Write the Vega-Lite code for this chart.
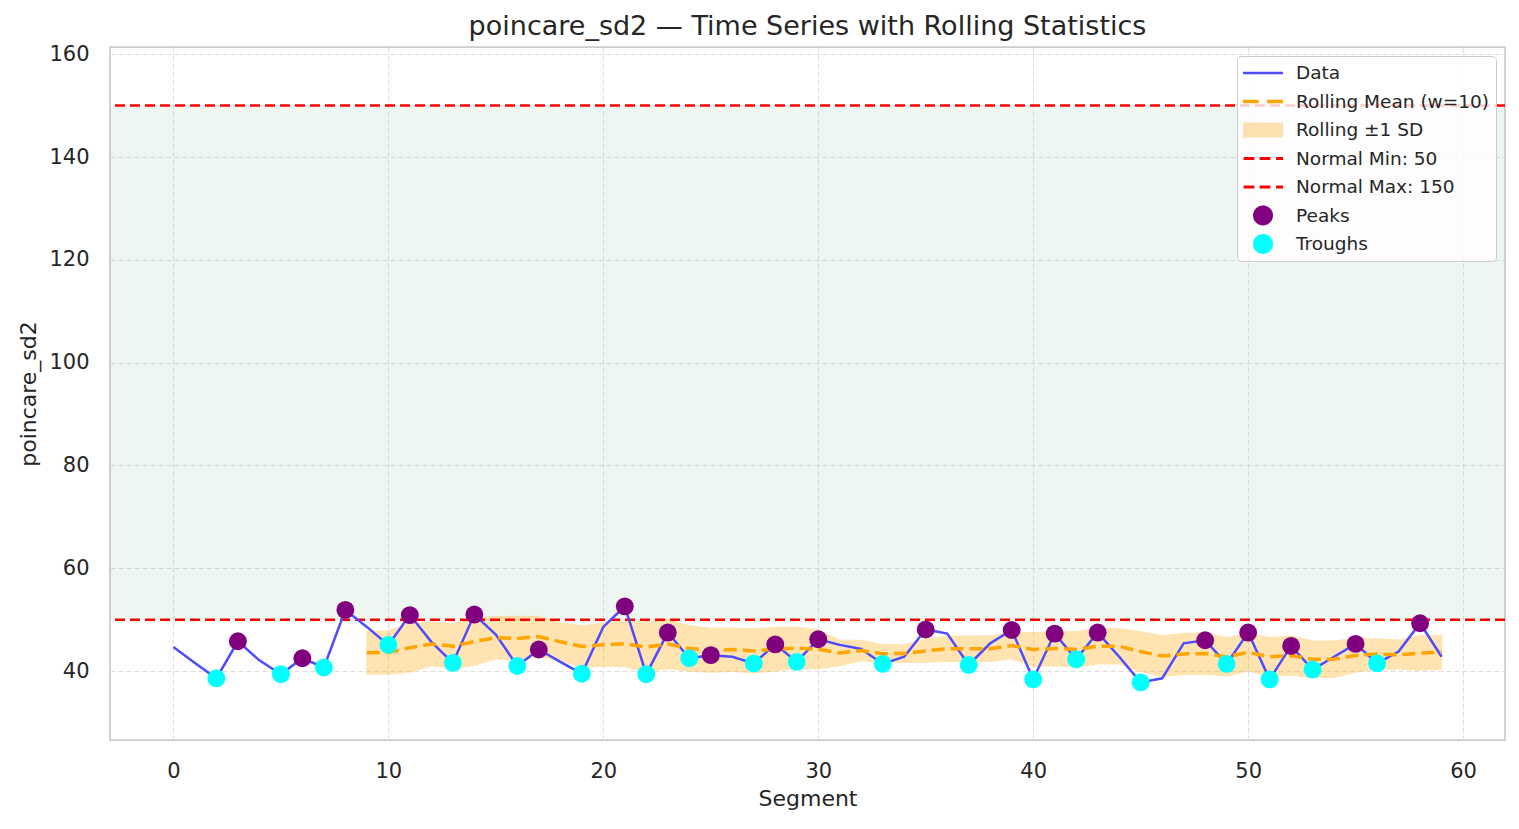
{
  "$schema": "https://vega.github.io/schema/vega-lite/v6.json",
  "width": 1395,
  "height": 693,
  "autosize": {"type": "none"},
  "padding": {"left": 110, "top": 47, "right": 14, "bottom": 89},
  "background": "white",
  "title": {"text": "poincare_sd2 — Time Series with Rolling Statistics", "fontSize": 27, "fontWeight": "normal", "color": "#262626", "offset": 2},
  "config": {
    "font": "DejaVu Sans",
    "view": {"stroke": "#cccccc", "strokeWidth": 1.75},
    "axis": {"domain": false, "ticks": false, "grid": true, "gridColor": "#dedede", "gridDash": [5, 3], "gridWidth": 1, "labelFontSize": 21, "labelColor": "#262626", "titleFontSize": 22, "titleFontWeight": "normal", "titleColor": "#262626"}
  },
  "datasets": {
    "series": [
      {"seg": 0, "value": 44.7}, {"seg": 1, "value": 41.6}, {"seg": 2, "value": 38.6}, {"seg": 3, "value": 45.8}, {"seg": 4, "value": 42.1},
      {"seg": 5, "value": 39.4}, {"seg": 6, "value": 42.5}, {"seg": 7, "value": 40.7}, {"seg": 8, "value": 51.9}, {"seg": 9, "value": 48.6},
      {"seg": 10, "value": 45.1}, {"seg": 11, "value": 50.9}, {"seg": 12, "value": 45.7}, {"seg": 13, "value": 41.6}, {"seg": 14, "value": 51.0},
      {"seg": 15, "value": 47.1}, {"seg": 16, "value": 41.0}, {"seg": 17, "value": 44.2}, {"seg": 18, "value": 41.8}, {"seg": 19, "value": 39.5},
      {"seg": 20, "value": 48.6}, {"seg": 21, "value": 52.6}, {"seg": 22, "value": 39.4}, {"seg": 23, "value": 47.5}, {"seg": 24, "value": 42.5},
      {"seg": 25, "value": 43.1}, {"seg": 26, "value": 42.8}, {"seg": 27, "value": 41.5}, {"seg": 28, "value": 45.2}, {"seg": 29, "value": 41.8},
      {"seg": 30, "value": 46.2}, {"seg": 31, "value": 45.1}, {"seg": 32, "value": 44.3}, {"seg": 33, "value": 41.4}, {"seg": 34, "value": 42.8},
      {"seg": 35, "value": 48.1}, {"seg": 36, "value": 47.3}, {"seg": 37, "value": 41.2}, {"seg": 38, "value": 45.4}, {"seg": 39, "value": 48.0},
      {"seg": 40, "value": 38.4}, {"seg": 41, "value": 47.3}, {"seg": 42, "value": 42.3}, {"seg": 43, "value": 47.5}, {"seg": 44, "value": 42.8},
      {"seg": 45, "value": 37.8}, {"seg": 46, "value": 38.6}, {"seg": 47, "value": 45.4}, {"seg": 48, "value": 46.0}, {"seg": 49, "value": 41.4},
      {"seg": 50, "value": 47.5}, {"seg": 51, "value": 38.4}, {"seg": 52, "value": 44.9}, {"seg": 53, "value": 40.3}, {"seg": 54, "value": 42.8},
      {"seg": 55, "value": 45.3}, {"seg": 56, "value": 41.5}, {"seg": 57, "value": 43.8}, {"seg": 58, "value": 49.3}, {"seg": 59, "value": 42.8}
    ],
    "rolling": [
      {"seg": 9, "mean": 43.59, "lower": 39.39, "upper": 47.79},
      {"seg": 10, "mean": 43.63, "lower": 39.42, "upper": 47.84},
      {"seg": 11, "mean": 44.56, "lower": 39.85, "upper": 49.27},
      {"seg": 12, "mean": 45.27, "lower": 41.05, "upper": 49.49},
      {"seg": 13, "mean": 44.85, "lower": 40.48, "upper": 49.22},
      {"seg": 14, "mean": 45.74, "lower": 41.10, "upper": 50.38},
      {"seg": 15, "mean": 46.51, "lower": 42.43, "upper": 50.59},
      {"seg": 16, "mean": 46.36, "lower": 42.09, "upper": 50.63},
      {"seg": 17, "mean": 46.71, "lower": 42.83, "upper": 50.59},
      {"seg": 18, "mean": 45.70, "lower": 42.01, "upper": 49.39},
      {"seg": 19, "mean": 44.79, "lower": 40.79, "upper": 48.79},
      {"seg": 20, "mean": 45.14, "lower": 40.96, "upper": 49.32},
      {"seg": 21, "mean": 45.31, "lower": 40.85, "upper": 49.77},
      {"seg": 22, "mean": 44.68, "lower": 39.85, "upper": 49.51},
      {"seg": 23, "mean": 45.27, "lower": 40.50, "upper": 50.04},
      {"seg": 24, "mean": 44.42, "lower": 40.04, "upper": 48.80},
      {"seg": 25, "mean": 44.02, "lower": 39.73, "upper": 48.31},
      {"seg": 26, "mean": 44.20, "lower": 40.01, "upper": 48.39},
      {"seg": 27, "mean": 43.93, "lower": 39.66, "upper": 48.20},
      {"seg": 28, "mean": 44.27, "lower": 40.05, "upper": 48.49},
      {"seg": 29, "mean": 44.50, "lower": 40.51, "upper": 48.49},
      {"seg": 30, "mean": 44.26, "lower": 40.48, "upper": 48.04},
      {"seg": 31, "mean": 43.51, "lower": 41.06, "upper": 45.96},
      {"seg": 32, "mean": 44.00, "lower": 42.02, "upper": 45.98},
      {"seg": 33, "mean": 43.39, "lower": 41.68, "upper": 45.10},
      {"seg": 34, "mean": 43.42, "lower": 41.73, "upper": 45.11},
      {"seg": 35, "mean": 43.92, "lower": 41.68, "upper": 46.16},
      {"seg": 36, "mean": 44.37, "lower": 41.94, "upper": 46.80},
      {"seg": 37, "mean": 44.34, "lower": 41.87, "upper": 46.81},
      {"seg": 38, "mean": 44.36, "lower": 41.88, "upper": 46.84},
      {"seg": 39, "mean": 44.98, "lower": 42.44, "upper": 47.52},
      {"seg": 40, "mean": 44.20, "lower": 40.97, "upper": 47.43},
      {"seg": 41, "mean": 44.42, "lower": 41.05, "upper": 47.79},
      {"seg": 42, "mean": 44.22, "lower": 40.78, "upper": 47.66},
      {"seg": 43, "mean": 44.83, "lower": 41.41, "upper": 48.25},
      {"seg": 44, "mean": 44.83, "lower": 41.41, "upper": 48.25},
      {"seg": 45, "mean": 43.80, "lower": 39.95, "upper": 47.65},
      {"seg": 46, "mean": 42.93, "lower": 38.98, "upper": 46.88},
      {"seg": 47, "mean": 43.35, "lower": 39.38, "upper": 47.32},
      {"seg": 48, "mean": 43.41, "lower": 39.40, "upper": 47.42},
      {"seg": 49, "mean": 42.75, "lower": 39.05, "upper": 46.45},
      {"seg": 50, "mean": 43.66, "lower": 40.03, "upper": 47.29},
      {"seg": 51, "mean": 42.77, "lower": 39.04, "upper": 46.50},
      {"seg": 52, "mean": 43.03, "lower": 39.24, "upper": 46.82},
      {"seg": 53, "mean": 42.31, "lower": 38.79, "upper": 45.83},
      {"seg": 54, "mean": 42.31, "lower": 38.79, "upper": 45.83},
      {"seg": 55, "mean": 43.06, "lower": 39.82, "upper": 46.30},
      {"seg": 56, "mean": 43.35, "lower": 40.44, "upper": 46.26},
      {"seg": 57, "mean": 43.19, "lower": 40.37, "upper": 46.01},
      {"seg": 58, "mean": 43.52, "lower": 40.19, "upper": 46.85},
      {"seg": 59, "mean": 43.66, "lower": 40.40, "upper": 46.92}
    ],
    "peaks": [
      {"seg": 3, "value": 45.8}, {"seg": 6, "value": 42.5}, {"seg": 8, "value": 51.9}, {"seg": 11, "value": 50.9}, {"seg": 14, "value": 51.0},
      {"seg": 17, "value": 44.2}, {"seg": 21, "value": 52.6}, {"seg": 23, "value": 47.5}, {"seg": 25, "value": 43.1}, {"seg": 28, "value": 45.2},
      {"seg": 30, "value": 46.2}, {"seg": 35, "value": 48.1}, {"seg": 39, "value": 48.0}, {"seg": 41, "value": 47.3}, {"seg": 43, "value": 47.5},
      {"seg": 48, "value": 46.0}, {"seg": 50, "value": 47.5}, {"seg": 52, "value": 44.9}, {"seg": 55, "value": 45.3}, {"seg": 58, "value": 49.3}
    ],
    "troughs": [
      {"seg": 2, "value": 38.6}, {"seg": 5, "value": 39.4}, {"seg": 7, "value": 40.7}, {"seg": 10, "value": 45.1}, {"seg": 13, "value": 41.6},
      {"seg": 16, "value": 41.0}, {"seg": 19, "value": 39.5}, {"seg": 22, "value": 39.4}, {"seg": 24, "value": 42.5}, {"seg": 27, "value": 41.5},
      {"seg": 29, "value": 41.8}, {"seg": 33, "value": 41.4}, {"seg": 37, "value": 41.2}, {"seg": 40, "value": 38.4}, {"seg": 42, "value": 42.3},
      {"seg": 45, "value": 37.8}, {"seg": 49, "value": 41.4}, {"seg": 51, "value": 38.4}, {"seg": 53, "value": 40.3}, {"seg": 56, "value": 41.5}
    ],
    "normal": [{"lo": 50, "hi": 150}],
    "limits": [{"v": 50}, {"v": 150}],
    "legend": [
      {"label": "Data"}, {"label": "Rolling Mean (w=10)"}, {"label": "Rolling ±1 SD"}, {"label": "Normal Min: 50"},
      {"label": "Normal Max: 150"}, {"label": "Peaks"}, {"label": "Troughs"}
    ]
  },
  "layer": [
    {
      "data": {"name": "normal"},
      "mark": {"type": "rect", "color": "#3a9a5a", "opacity": 0.09},
      "encoding": {
        "y": {"field": "lo", "type": "quantitative", "scale": {"domain": [26.6, 161.4], "nice": false, "zero": false}, "axis": {"values": [40, 60, 80, 100, 120, 140, 160], "title": "poincare_sd2", "labelPadding": 21, "titlePadding": 8}},
        "y2": {"field": "hi"}
      }
    },
    {
      "data": {"name": "rolling"},
      "mark": {"type": "area", "color": "orange", "opacity": 0.3, "stroke": "orange", "strokeWidth": 1.2},
      "encoding": {
        "x": {"field": "seg", "type": "quantitative", "scale": {"domain": [-2.95, 61.95], "nice": false, "zero": false}, "axis": {"values": [0, 10, 20, 30, 40, 50, 60], "title": "Segment", "labelPadding": 20, "titlePadding": 7}},
        "y": {"field": "lower", "type": "quantitative"},
        "y2": {"field": "upper"}
      }
    },
    {
      "data": {"name": "limits"},
      "mark": {"type": "rule", "color": "red", "strokeWidth": 2.5, "strokeDash": [10, 5]},
      "encoding": {"y": {"field": "v", "type": "quantitative"}}
    },
    {
      "data": {"name": "series"},
      "mark": {"type": "line", "color": "#4d4dff", "strokeWidth": 2.5},
      "encoding": {"x": {"field": "seg", "type": "quantitative"}, "y": {"field": "value", "type": "quantitative"}}
    },
    {
      "data": {"name": "rolling"},
      "mark": {"type": "line", "color": "orange", "strokeWidth": 3.5, "strokeDash": [13, 6]},
      "encoding": {"x": {"field": "seg", "type": "quantitative"}, "y": {"field": "mean", "type": "quantitative"}}
    },
    {
      "data": {"name": "peaks"},
      "mark": {"type": "point", "filled": true, "color": "#800080", "opacity": 1, "size": 320},
      "encoding": {"x": {"field": "seg", "type": "quantitative"}, "y": {"field": "value", "type": "quantitative"}}
    },
    {
      "data": {"name": "troughs"},
      "mark": {"type": "point", "filled": true, "color": "#00ffff", "opacity": 1, "size": 320},
      "encoding": {"x": {"field": "seg", "type": "quantitative"}, "y": {"field": "value", "type": "quantitative"}}
    },
    {
      "data": {"name": "legend"},
      "mark": {"type": "point", "filled": true, "opacity": 0},
      "encoding": {
        "color": {
          "field": "label", "type": "nominal",
          "scale": {"domain": ["Data", "Rolling Mean (w=10)", "Rolling ±1 SD", "Normal Min: 50", "Normal Max: 150", "Peaks", "Troughs"],
                    "range": ["#4d4dff", "#ffa500", "#fde0b0", "#ff0000", "#ff0000", "#800080", "#00ffff"]},
          "legend": {"title": null, "orient": "top-right", "offset": 9, "padding": 6, "fillColor": "rgba(255,255,255,0.8)", "strokeColor": "#cccccc", "cornerRadius": 4,
                     "labelFontSize": 18.5, "labelColor": "#262626", "labelLimit": 400, "labelOffset": 13, "symbolSize": 1600, "symbolStrokeWidth": 0, "symbolOpacity": 1,
                     "clipHeight": 22, "rowPadding": 6.5}
        },
        "shape": {
          "field": "label", "type": "nominal",
          "scale": {"domain": ["Data", "Rolling Mean (w=10)", "Rolling ±1 SD", "Normal Min: 50", "Normal Max: 150", "Peaks", "Troughs"],
                    "range": [
                      "M-1,-0.06H1V0.06H-1Z",
                      "M-1,-0.09H-0.22V0.09H-1Z M0.2,-0.09H1V0.09H0.2Z",
                      "M-1,-0.37H1V0.37H-1Z",
                      "M-0.97,-0.07H-0.43V0.07H-0.97Z M-0.17,-0.07H0.37V0.07H-0.17Z M0.65,-0.07H1V0.07H0.65Z",
                      "M-0.97,-0.07H-0.43V0.07H-0.97Z M-0.17,-0.07H0.37V0.07H-0.17Z M0.65,-0.07H1V0.07H0.65Z",
                      "M-0.5,0A0.5,0.5,0,1,0,0.5,0A0.5,0.5,0,1,0,-0.5,0Z",
                      "M-0.5,0A0.5,0.5,0,1,0,0.5,0A0.5,0.5,0,1,0,-0.5,0Z"
                    ]},
          "legend": {"title": null, "orient": "top-right", "offset": 9, "padding": 6, "fillColor": "rgba(255,255,255,0.8)", "strokeColor": "#cccccc", "cornerRadius": 4,
                     "labelFontSize": 18.5, "labelColor": "#262626", "labelLimit": 400, "labelOffset": 13, "symbolSize": 1600, "symbolStrokeWidth": 0, "symbolOpacity": 1,
                     "clipHeight": 22, "rowPadding": 6.5}
        }
      }
    }
  ]
}
